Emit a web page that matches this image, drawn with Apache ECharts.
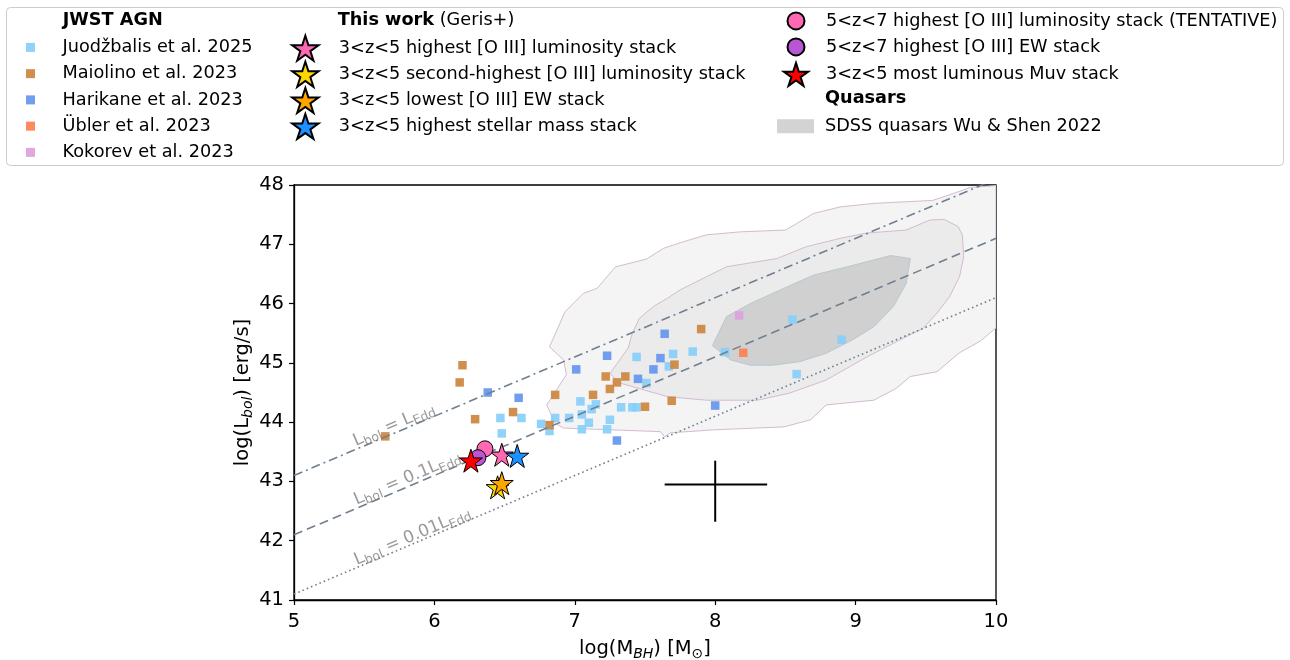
<!DOCTYPE html>
<html lang="en">
<head>
<meta charset="UTF-8">
<title>BH mass vs bolometric luminosity</title>
<style>
  body, html { margin: 0; padding: 0; background: #fff; }
  #main { width: 1290px; height: 660px; }
</style>
</head>
<body>
<div id="main"></div>
<script src="https://cdn.jsdelivr.net/npm/echarts@6/dist/echarts.min.js"></script>
<script>
  // JWST AGN samples: [log M_BH, log L_bol]
  var juodzbalis = [
    [8.55, 45.73], [8.90, 45.39], [8.07, 45.18], [8.58, 44.81], [7.84, 45.19],
    [7.70, 45.15], [7.67, 44.94], [7.51, 44.66], [7.44, 45.10], [7.04, 44.35],
    [7.15, 44.30], [7.12, 44.22], [7.33, 44.25], [7.41, 44.25], [7.44, 44.25],
    [7.05, 44.13], [6.86, 44.07], [6.96, 44.07], [7.10, 43.99], [7.25, 44.04],
    [6.76, 43.97], [6.82, 43.85], [7.05, 43.88], [7.23, 43.88], [6.62, 44.07],
    [6.47, 44.07], [6.48, 43.81]
  ];
  var maiolino = [
    [7.90, 45.57], [7.71, 44.97], [7.69, 44.36], [7.50, 44.26], [7.22, 44.77],
    [7.36, 44.77], [7.30, 44.67], [7.25, 44.56], [6.86, 44.46], [7.13, 44.46],
    [6.82, 43.95], [6.20, 44.96], [6.18, 44.67], [6.29, 44.05], [6.56, 44.17],
    [5.65, 43.76]
  ];
  var harikane = [
    [7.64, 45.49], [7.61, 45.08], [7.56, 44.89], [7.23, 45.12], [7.01, 44.89],
    [7.45, 44.73], [8.00, 44.28], [7.30, 43.69], [6.38, 44.50], [6.60, 44.41]
  ];
  var ubler = [[8.20, 45.17]];
  var kokorev = [[8.17, 45.80]];

  // this work stacks
  var stackHighLum = [[6.48, 43.45]];
  var stackSecondLum = [[6.45, 42.90]];
  var stackLowEW = [[6.48, 42.97]];
  var stackHighMass = [[6.59, 43.43]];
  var stackHighLumZ57 = [[6.36, 43.55]];
  var stackHighEWZ57 = [[6.31, 43.40]];
  var stackMuv = [[6.26, 43.35]];

  // SDSS quasar density contours (outer, middle, inner)
  var contourOuter = [
    [6.86, 43.98], [6.80, 44.29], [6.94, 44.80], [6.92, 45.05], [6.82, 45.27],
    [6.93, 45.86], [7.06, 46.17], [7.16, 46.26], [7.29, 46.62], [7.51, 46.75],
    [7.63, 46.93], [7.77, 47.04], [7.94, 47.16], [8.18, 47.21], [8.50, 47.24],
    [8.58, 47.35], [8.70, 47.52], [8.89, 47.63], [9.13, 47.69], [9.55, 47.74],
    [9.70, 47.86], [9.82, 47.96], [10.0, 47.99], [10.0, 45.59], [9.89, 45.37],
    [9.74, 45.17], [9.58, 44.85], [9.39, 44.77], [9.29, 44.57], [9.13, 44.37],
    [8.79, 44.29], [8.68, 44.04], [8.49, 43.92], [7.99, 43.87], [7.68, 43.82],
    [7.64, 43.75], [7.61, 43.84], [6.92, 43.90]
  ];
  var contourMiddle = [
    [7.25, 44.82], [7.32, 44.66], [7.66, 44.43], [7.94, 44.37], [8.30, 44.37],
    [8.53, 44.49], [8.79, 44.71], [9.08, 45.10], [9.36, 45.44], [9.48, 45.58],
    [9.58, 45.84], [9.67, 46.12], [9.74, 46.45], [9.77, 46.79], [9.76, 47.16],
    [9.73, 47.30], [9.63, 47.42], [9.53, 47.41], [9.36, 47.24], [9.08, 47.19],
    [8.89, 47.10], [8.65, 46.96], [8.44, 46.76], [8.08, 46.62], [7.75, 46.23],
    [7.66, 46.09], [7.56, 45.95], [7.46, 45.75], [7.41, 45.50], [7.38, 45.25],
    [7.32, 45.05]
  ];
  var contourInner = [
    [7.98, 45.29], [8.08, 45.78], [8.25, 46.00], [8.51, 46.28], [8.70, 46.48],
    [8.94, 46.62], [9.25, 46.81], [9.39, 46.76], [9.36, 46.34], [9.27, 45.95],
    [9.13, 45.61], [8.98, 45.39], [8.79, 45.16], [8.60, 45.02], [8.41, 44.96],
    [8.25, 44.96], [8.11, 45.05]
  ];

  // Eddington ratio lines and their labels
  var eddFull = [[5, 43.1], [10, 48.1]];
  var eddTenth = [[5, 42.1], [10, 47.1]];
  var eddHundredth = [[5, 41.1], [10, 46.1]];
  var eddLabelPos = [[5.712, 43.95], [5.807, 43.05], [5.843, 42.07]];
  var eddLabelText = [
    '{n|L}{s|bol}{n| = L}{s|Edd}',
    '{n|L}{s|bol}{n| = 0.1L}{s|Edd}',
    '{n|L}{s|bol}{n| = 0.01L}{s|Edd}'
  ];

  // typical uncertainty cross
  var errCenter = [8.0, 42.95];
  var errX = [7.64, 8.37];
  var errY = [42.32, 43.35];

  var xTicks = [5, 10];
  var yTicks = [41, 48];

  var FONT = '"DejaVu Sans", sans-serif';
  var STAR = 'path://M0,-1L0.2245,-0.309L0.951,-0.309L0.363,0.118L0.588,0.809L0,0.382L-0.588,0.809L-0.363,0.118L-0.951,-0.309L-0.2245,-0.309Z';
  var SQUARE = 'path://M0,0L10,0L10,10L0,10Z';

  var myChart = echarts.init(document.getElementById('main'));

  function squares(name, data, color) {
    return {
      name: name, type: 'scatter', data: data, symbol: SQUARE, symbolSize: 8.5, z: 3,
      itemStyle: { color: color, opacity: 0.92 }, silent: true
    };
  }
  function stack(name, data, color, symbol, size, z) {
    return {
      name: name, type: 'scatter', data: data, symbol: symbol, symbolSize: size, z: z,
      itemStyle: { color: color, borderColor: '#000', borderWidth: 1, opacity: 1 }, silent: true
    };
  }
  function eddLine(data, dash) {
    return {
      type: 'line', data: data, symbol: 'none', z: 4, silent: true,
      lineStyle: { color: '#708090', width: 1.6, type: dash }
    };
  }

  var contours = [
    { pts: contourOuter, fill: '#f4f4f4', stroke: '#d2bcd2' },
    { pts: contourMiddle, fill: '#ebebeb', stroke: '#d2bcd2' },
    { pts: contourInner, fill: '#d0d0d0', stroke: '#b8c8d2' }
  ];

  var LEG = 17.7;
  var legendText = { fontFamily: FONT, fontSize: LEG, color: '#000', lineHeight: 26 };
  var subRich = {
    n: { fontFamily: FONT, fontSize: 17, lineHeight: 22, color: '#808080' },
    s: { fontFamily: FONT, fontSize: 12.5, lineHeight: 13, color: '#808080', verticalAlign: 'bottom' }
  };

  var option = {
    animation: false,
    backgroundColor: '#fff',
    textStyle: { fontFamily: FONT },
    grid: {
      left: 294, right: 294, top: 185, bottom: 60,
      show: true, borderColor: '#000', borderWidth: 1.3, backgroundColor: 'transparent',
      outerBoundsMode: 'none'
    },
    graphic: [
      {
        type: 'rect', z: 0, silent: true,
        shape: { x: 6.5, y: 7.5, width: 1277, height: 158, r: 4 },
        style: { fill: '#fff', stroke: '#cccccc', lineWidth: 1 }
      },
      {
        type: 'text', x: 62.7, y: 20, z: 5, silent: true,
        style: { text: 'JWST AGN', font: 'bold ' + LEG + 'px ' + FONT, fill: '#000', verticalAlign: 'middle' }
      },
      {
        type: 'text', x: 337.7, y: 20, z: 5, silent: true,
        style: {
          text: '{b|This work} (Geris+)', font: LEG + 'px ' + FONT, fill: '#000', verticalAlign: 'middle',
          rich: { b: { fontWeight: 'bold', fontSize: LEG, fontFamily: FONT, fill: '#000' } }
        }
      },
      {
        type: 'text', x: 825, y: 98.5, z: 5, silent: true,
        style: { text: 'Quasars', font: 'bold ' + LEG + 'px ' + FONT, fill: '#000', verticalAlign: 'middle' }
      }
    ],
    legend: [
      {
        left: 26, top: 34.4, padding: 0, orient: 'vertical', itemGap: 0.25,
        itemWidth: 54, itemHeight: 9, selectedMode: false, textStyle: legendText,
        data: ['Juodžbalis et al. 2025', 'Maiolino et al. 2023', 'Harikane et al. 2023',
               'Übler et al. 2023', 'Kokorev et al. 2023']
      },
      {
        left: 291.2, top: 34.7, padding: 0, orient: 'vertical', itemGap: -0.9,
        itemWidth: 57, itemHeight: 25, selectedMode: false, textStyle: legendText,
        data: ['3<z<5 highest [O III] luminosity stack', '3<z<5 second-highest [O III] luminosity stack',
               '3<z<5 lowest [O III] EW stack', '3<z<5 highest stellar mass stack']
      },
      {
        left: 786.5, top: 7.9, padding: 0, orient: 'vertical', itemGap: 0,
        itemWidth: 50, itemHeight: 17, selectedMode: false, textStyle: legendText,
        data: ['5<z<7 highest [O III] luminosity stack (TENTATIVE)', '5<z<7 highest [O III] EW stack']
      },
      {
        left: 782.9, top: 61.4, padding: 0, orient: 'vertical', itemGap: 0,
        itemWidth: 50, itemHeight: 23, selectedMode: false, textStyle: legendText,
        data: ['3<z<5 most luminous Muv stack']
      },
      {
        left: 777, top: 113.2, padding: 0, orient: 'vertical', itemGap: 0,
        itemWidth: 37, itemHeight: 14, selectedMode: false,
        textStyle: { fontFamily: FONT, fontSize: LEG, color: '#000', lineHeight: 26, padding: [0, 0, 0, 6] },
        data: [{ name: 'SDSS quasars Wu & Shen 2022', icon: 'rect' }]
      }
    ],
    xAxis: {
      type: 'value', min: xTicks[0], max: xTicks[1], interval: 1,
      name: '{n|log(M}{i|BH}{n|) [M}{s|⊙}{n|]}',
      nameLocation: 'middle', nameGap: 37,
      nameTextStyle: {
        rich: {
          n: { fontFamily: FONT, fontSize: 19.5, lineHeight: 24, color: '#000' },
          i: { fontFamily: FONT, fontSize: 14, fontStyle: 'italic', lineHeight: 15, color: '#000', verticalAlign: 'bottom' },
          s: { fontFamily: FONT, fontSize: 14, lineHeight: 15, color: '#000', verticalAlign: 'bottom' }
        }
      },
      axisLine: { show: true, onZero: false, lineStyle: { color: '#000', width: 1.3 } },
      axisTick: { show: true, inside: false, length: 5, lineStyle: { color: '#000', width: 1.2 } },
      axisLabel: { fontFamily: FONT, fontSize: 19.5, color: '#000', margin: 12 },
      splitLine: { show: false }
    },
    yAxis: {
      type: 'value', min: yTicks[0], max: yTicks[1], interval: 1,
      name: '{n|log(L}{i|bol}{n|) [erg/s]}',
      nameLocation: 'middle', nameGap: 39, nameRotate: 90, nameMoveOverlap: false,
      nameTextStyle: {
        rich: {
          n: { fontFamily: FONT, fontSize: 19.5, lineHeight: 24, color: '#000' },
          i: { fontFamily: FONT, fontSize: 14, fontStyle: 'italic', lineHeight: 15, color: '#000', verticalAlign: 'bottom' }
        }
      },
      axisLine: { show: true, onZero: false, lineStyle: { color: '#000', width: 1.3 } },
      axisTick: { show: true, inside: false, length: 5, lineStyle: { color: '#000', width: 1.2 } },
      axisLabel: { fontFamily: FONT, fontSize: 19.5, color: '#000', margin: 10 },
      splitLine: { show: false }
    },
    series: [
      {
        name: 'SDSS quasars Wu & Shen 2022', type: 'custom', z: 1, silent: true, clip: true,
        itemStyle: { color: '#d3d3d3' },
        data: [0, 1, 2],
        renderItem: function (params, api) {
          var c = contours[params.dataIndex];
          return {
            type: 'polygon',
            shape: { points: c.pts.map(function (p) { return api.coord(p); }) },
            style: { fill: c.fill, stroke: c.stroke, lineWidth: 1 }
          };
        }
      },
      squares('Juodžbalis et al. 2025', juodzbalis, '#87cefa'),
      squares('Maiolino et al. 2023', maiolino, '#cd853f'),
      squares('Harikane et al. 2023', harikane, '#6495ed'),
      squares('Übler et al. 2023', ubler, '#ff7f50'),
      squares('Kokorev et al. 2023', kokorev, '#dda0dd'),
      eddLine(eddFull, [9, 4, 2, 4]),
      eddLine(eddTenth, [9, 5]),
      eddLine(eddHundredth, [1.6, 3]),
      {
        type: 'scatter', symbolSize: 0, z: 4, silent: true,
        data: eddLabelPos.map(function (p, i) {
          return { value: p, label: { formatter: eddLabelText[i] } };
        }),
        label: { show: true, position: 'inside', rotate: 22.9, rich: subRich }
      },
      {
        type: 'custom', z: 5, silent: true,
        data: [[errCenter[0], errCenter[1], errX[0], errX[1], errY[0], errY[1]]],
        renderItem: function (params, api) {
          var l = api.coord([api.value(2), api.value(1)]);
          var r = api.coord([api.value(3), api.value(1)]);
          var b = api.coord([api.value(0), api.value(4)]);
          var t = api.coord([api.value(0), api.value(5)]);
          var st = { stroke: '#000', lineWidth: 2 };
          return {
            type: 'group',
            children: [
              { type: 'line', shape: { x1: l[0], y1: l[1], x2: r[0], y2: r[1] }, style: st },
              { type: 'line', shape: { x1: b[0], y1: b[1], x2: t[0], y2: t[1] }, style: st }
            ]
          };
        }
      },
      stack('3<z<5 highest [O III] luminosity stack', stackHighLum, '#ff69b4', STAR, 23, 6),
      stack('3<z<5 second-highest [O III] luminosity stack', stackSecondLum, '#ffd700', STAR, 23, 7),
      stack('3<z<5 lowest [O III] EW stack', stackLowEW, '#ffa500', STAR, 23, 8),
      stack('3<z<5 highest stellar mass stack', stackHighMass, '#1e90ff', STAR, 23, 9),
      stack('5<z<7 highest [O III] luminosity stack (TENTATIVE)', stackHighLumZ57, '#ff69b4', 'circle', 16, 10),
      stack('5<z<7 highest [O III] EW stack', stackHighEWZ57, '#ba55d3', 'circle', 16, 11),
      stack('3<z<5 most luminous Muv stack', stackMuv, '#ff0000', STAR, 23, 12)
    ]
  };

  myChart.setOption(option);
</script>
</body>
</html>
